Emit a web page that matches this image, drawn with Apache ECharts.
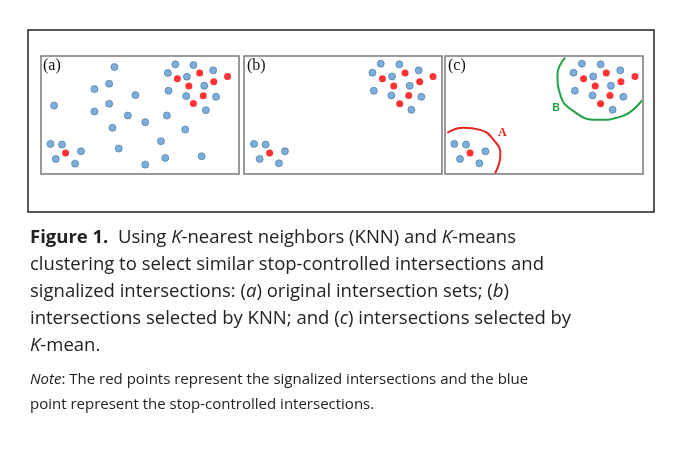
<!DOCTYPE html>
<html><head><meta charset="utf-8">
<script src="https://cdn.jsdelivr.net/npm/echarts@6/dist/echarts.min.js"></script>
<style>html,body{margin:0;background:#fff}#c{width:674px;height:467px}</style>
</head><body><div id="c"></div>
<script>
// point positions (units: 1/3 px inside each panel)
var aBlue = [[257,68],[443,60],[498,62],[420,86],[558,78],[478,97],[196,134],[241,118],[321,152],[422,139],[531,124],[476,155],[567,157],[73,183],[241,178],[196,201],[298,213],[417,213],[536,197],[351,233],[251,250],[473,255],[62,298],[97,300],[155,320],[270,312],[399,290],[78,343],[137,357],[412,340],[523,335],[351,360]];
var aRed = [[449,103],[517,86],[560,112],[602,96],[484,125],[528,154],[498,177],[108,325]];
var bBlue = [[423,58],[479,60],[398,85],[457,96],[537,78],[510,124],[402,139],[455,153],[545,157],[515,196],[42,298],[77,300],[135,320],[59,343],[117,356]];
var bRed = [[428,103],[496,86],[540,112],[580,96],[462,125],[507,153],[480,178],[89,325]];
var cBlue = [[425,58],[481,60],[400,85],[459,96],[540,78],[512,124],[404,139],[457,153],[549,157],[517,196],[43,298],[78,300],[136,320],[60,343],[118,356]];
var cRed = [[430,103],[498,86],[542,112],[584,96],[465,125],[509,153],[481,178],[90,325]];
var arcA = [[22,265],[70,250],[120,256],[160,285],[181,330],[165,386]];
var arcB = [[375,40],[352,90],[360,150],[400,200],[470,226],[545,215],[605,168]];
var panelLabels = ['(a)', '(b)', '(c)'];

var chart = echarts.init(document.getElementById('c'));
var boxes = [[41, 198, 33, 637], [244, 198, 12, 607], [445, 198, 15, 608]];
var grids = [], xAxes = [], yAxes = [];
boxes.forEach(function (b) {
  grids.push({left: b[0], top: 56, width: b[1], height: 118, show: true,
    borderColor: '#7a7a7a', borderWidth: 1.5, backgroundColor: '#fff'});
  xAxes.push({gridIndex: grids.length - 1, type: 'value', min: b[2], max: b[3], show: false});
  yAxes.push({gridIndex: grids.length - 1, type: 'value', min: 35, max: 388, inverse: true, show: false});
});

function dots(data, idx, red) {
  return {type: 'scatter', xAxisIndex: idx, yAxisIndex: idx, data: data, symbolSize: 7,
    itemStyle: red ? {color: '#ff0000'} : {color: '#5b9bd5', borderColor: '#41719c', borderWidth: 0.8}};
}
function arc(data, color) {
  return {type: 'line', xAxisIndex: 2, yAxisIndex: 2, data: data, smooth: 0.5, showSymbol: false,
    lineStyle: {color: color, width: 2}};
}

var option = {
  backgroundColor: '#fff',
  animation: false,
  grid: grids, xAxis: xAxes, yAxis: yAxes,
  series: [dots(aBlue, 0), dots(aRed, 0, true), dots(bBlue, 1), dots(bRed, 1, true),
    dots(cBlue, 2), dots(cRed, 2, true), arc(arcA, '#e8231e'), arc(arcB, '#1fa345')],
  graphic: [
    {type: 'rect', z: -1, shape: {x: 28, y: 30, width: 626, height: 182}, style: {fill: 'none', stroke: '#222', lineWidth: 1.5}},
    {type: 'text', left: 43, top: 58, style: {text: panelLabels[0], font: '16px "Liberation Serif"', fill: '#111'}},
    {type: 'text', left: 247, top: 58, style: {text: panelLabels[1], font: '16px "Liberation Serif"', fill: '#111'}},
    {type: 'text', left: 448, top: 58, style: {text: panelLabels[2], font: '16px "Liberation Serif"', fill: '#111'}},
    {type: 'text', left: 498, top: 127, style: {text: 'A', font: 'bold 12px "Liberation Serif"', fill: '#e8231e'}},
    {type: 'text', left: 552, top: 101, style: {text: 'B', font: 'bold 12px Lato', fill: '#1fa345'}},
    {type: 'text', left: 30, top: 224, style: {
      text: '{b|Figure 1.}  Using {i|K}-nearest neighbors (KNN) and {i|K}-means\n' +
        'clustering to select similar stop-controlled intersections and\n' +
        'signalized intersections: ({i|a}) original intersection sets; ({i|b})\n' +
        'intersections selected by KNN; and ({i|c}) intersections selected by\n' +
        '{i|K}-mean.',
      fontFamily: 'Open Sans', fontSize: 18.5, lineHeight: 27, fill: '#222',
      rich: {b: {fontWeight: 'bold', fontFamily: 'Open Sans', fontSize: 18.5, fill: '#222'},
        i: {fontStyle: 'italic', fontFamily: 'Open Sans', fontSize: 18.5, fill: '#222'}}}},
    {type: 'text', left: 30, top: 367, style: {
      text: '{i|Note}: The red points represent the signalized intersections and the blue\n' +
        'point represent the stop-controlled intersections.',
      fontFamily: 'Open Sans', fontSize: 15, lineHeight: 25, fill: '#222',
      rich: {i: {fontStyle: 'italic', fontFamily: 'Open Sans', fontSize: 15, fill: '#222'}}}}
  ]
};
chart.setOption(option);
</script></body></html>
